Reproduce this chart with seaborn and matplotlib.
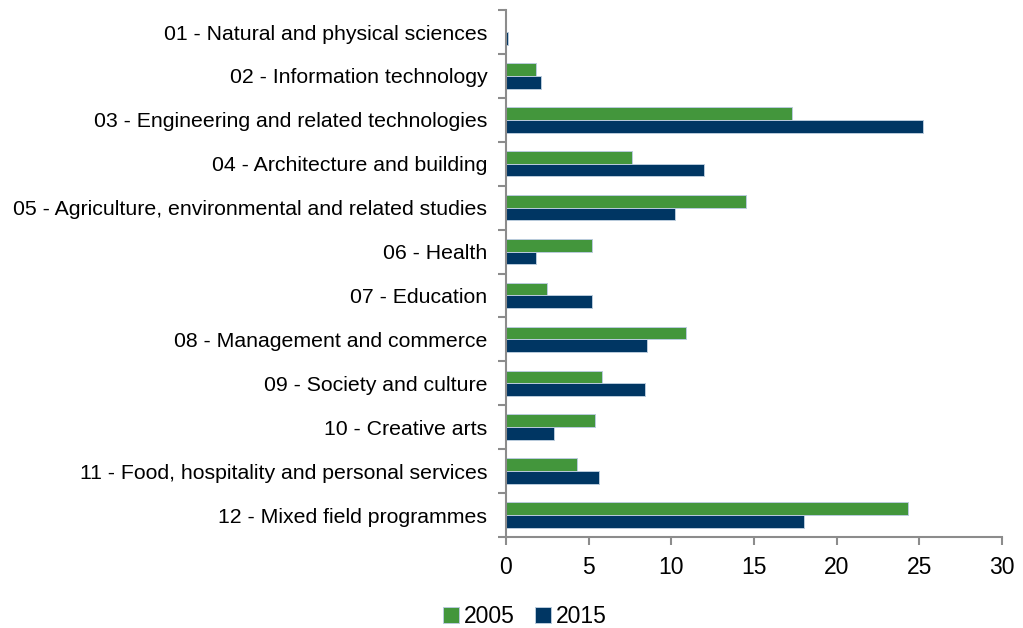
import numpy as np
import pandas as pd
import matplotlib
matplotlib.use("Agg")
import matplotlib.pyplot as plt
import seaborn as sns

# Field of education categories and shares (%)
fields = [
    "01 - Natural and physical sciences",
    "02 - Information technology",
    "03 - Engineering and related technologies",
    "04 - Architecture and building",
    "05 - Agriculture, environmental and related studies",
    "06 - Health",
    "07 - Education",
    "08 - Management and commerce",
    "09 - Society and culture",
    "10 - Creative arts",
    "11 - Food, hospitality and personal services",
    "12 - Mixed field programmes",
]
vals_2005 = [0.0, 1.8, 17.3, 7.6, 14.5, 5.2, 2.5, 10.9, 5.8, 5.4, 4.3, 24.3]
vals_2015 = [0.1, 2.1, 25.2, 12.0, 10.2, 1.8, 5.2, 8.5, 8.4, 2.9, 5.6, 18.0]
years = ["2005", "2015"]
x_ticks = [0, 5, 10, 15, 20, 25, 30]

df = pd.DataFrame({
    "Field": fields * 2,
    "Value": vals_2005 + vals_2015,
    "Year": [years[0]] * len(fields) + [years[1]] * len(fields),
})

sns.set_style("white")
plt.rcParams["font.family"] = ["Liberation Sans", "DejaVu Sans"]
plt.rcParams["text.color"] = "black"
plt.rcParams["xtick.color"] = "black"
plt.rcParams["ytick.color"] = "black"

fig = plt.figure(figsize=(10.23, 6.28), dpi=100)
ax = fig.add_axes([0.4946, 0.1449, 0.4849, 0.8391])

sns.barplot(data=df, y="Field", x="Value", hue="Year", orient="h",
            palette={"2005": "#43963c", "2015": "#003663"}, saturation=1,
            width=0.58, edgecolor="#b9cbdc", linewidth=0.7,
            order=fields, hue_order=years, ax=ax)

# Axis ranges and ticks
ax.set_xlim(0, 30)
ax.set_ylim(len(fields) - 0.5, -0.5)
ax.set_xticks(x_ticks)
ax.set_xticklabels([str(t) for t in x_ticks], fontsize=16.5)
ax.set_yticks(np.arange(len(fields)))
ax.set_yticklabels(fields, fontsize=15.3)
ax.set_yticks(np.arange(len(fields) + 1) - 0.5, minor=True)
ax.tick_params(axis="y", which="major", left=True, length=0, pad=13.5)
ax.tick_params(axis="y", which="minor", left=True, length=6, width=1.5,
               color="#8c8c8c", direction="out")
ax.tick_params(axis="x", which="major", bottom=True, length=6, width=1.5,
               color="#8c8c8c", labelcolor="black", direction="out", pad=8)
ax.set_xlabel("")
ax.set_ylabel("")

for side in ["top", "right"]:
    ax.spines[side].set_visible(False)
for side in ["left", "bottom"]:
    ax.spines[side].set_color("#8c8c8c")
    ax.spines[side].set_linewidth(1.5)

# Legend at the bottom
handles, labels = ax.get_legend_handles_labels()
ax.legend_.remove()
fig.legend(handles, labels, loc="center", bbox_to_anchor=(0.513, 0.018),
           ncol=2, frameon=False, fontsize=16.5, handlelength=0.7,
           handleheight=0.7, handletextpad=0.2, columnspacing=0.9)

fig.savefig("out.png", dpi=100)
